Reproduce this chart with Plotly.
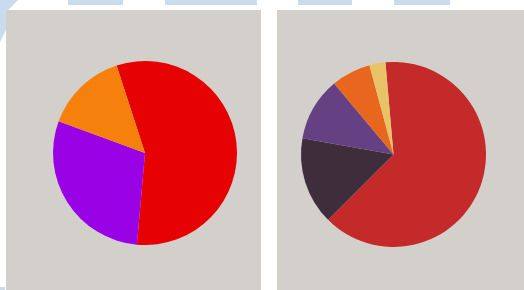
import plotly.graph_objects as go

# Left pie data
left_labels = ["A", "B", "C"]
left_values = [56.4, 29.2, 14.4]
left_colors = ["#e60202", "#9a02e6", "#f5800c"]

# Right pie data
right_labels = ["A", "B", "C", "D", "E"]
right_values = [63.9, 15.3, 11.1, 6.9, 2.8]
right_colors = ["#c42a2a", "#3e2e3c", "#654082", "#e8661e", "#e8c266"]

W, H = 524, 290

def px(x):
    return x / W

def py(y):
    return 1 - y / H

fig = go.Figure()

fig.add_trace(go.Pie(
    labels=left_labels, values=left_values, sort=False, direction="clockwise",
    rotation=-18, marker=dict(colors=left_colors, line=dict(width=0)),
    textinfo="none", hoverinfo="none", showlegend=False,
    domain=dict(x=[px(53), px(237)], y=[py(245), py(61)]),
))

fig.add_trace(go.Pie(
    labels=right_labels, values=right_values, sort=False, direction="clockwise",
    rotation=-5, marker=dict(colors=right_colors, line=dict(width=0)),
    textinfo="none", hoverinfo="none", showlegend=False,
    domain=dict(x=[px(301), px(486)], y=[py(247), py(62)]),
))

gray = "#d3d0cc"
blue = "#c9dbec"
shapes = [
    dict(type="rect", xref="paper", yref="paper", x0=px(6), x1=px(261), y0=py(290), y1=py(10),
         fillcolor=gray, line=dict(width=0), layer="below"),
    dict(type="rect", xref="paper", yref="paper", x0=px(277), x1=px(524), y0=py(290), y1=py(10),
         fillcolor=gray, line=dict(width=0), layer="below"),
]
for x0, x1 in [(68, 123), (165, 257), (298, 352), (394, 450)]:
    shapes.append(dict(type="rect", xref="paper", yref="paper", x0=px(x0), x1=px(x1), y0=py(5), y1=py(0),
                       fillcolor=blue, line=dict(width=0), layer="below"))
shapes.append(dict(type="path", xref="paper", yref="paper",
                   path=f"M 0 1 L {px(18)} 1 L {px(6)} {py(12)} L {px(6)} {py(30)} L 0 {py(42)} Z",
                   fillcolor=blue, line=dict(width=0), layer="below"))
shapes.append(dict(type="rect", xref="paper", yref="paper", x0=0, x1=px(5), y0=0, y1=py(287),
                   fillcolor=blue, line=dict(width=0), layer="below"))

fig.update_layout(
    width=W, height=H, margin=dict(l=0, r=0, t=0, b=0),
    paper_bgcolor="white", plot_bgcolor="white",
    shapes=shapes,
)

fig.write_html("out.html", config={"displayModeBar": False},
               post_script="document.body.style.margin='0';document.body.style.overflow='hidden';")
